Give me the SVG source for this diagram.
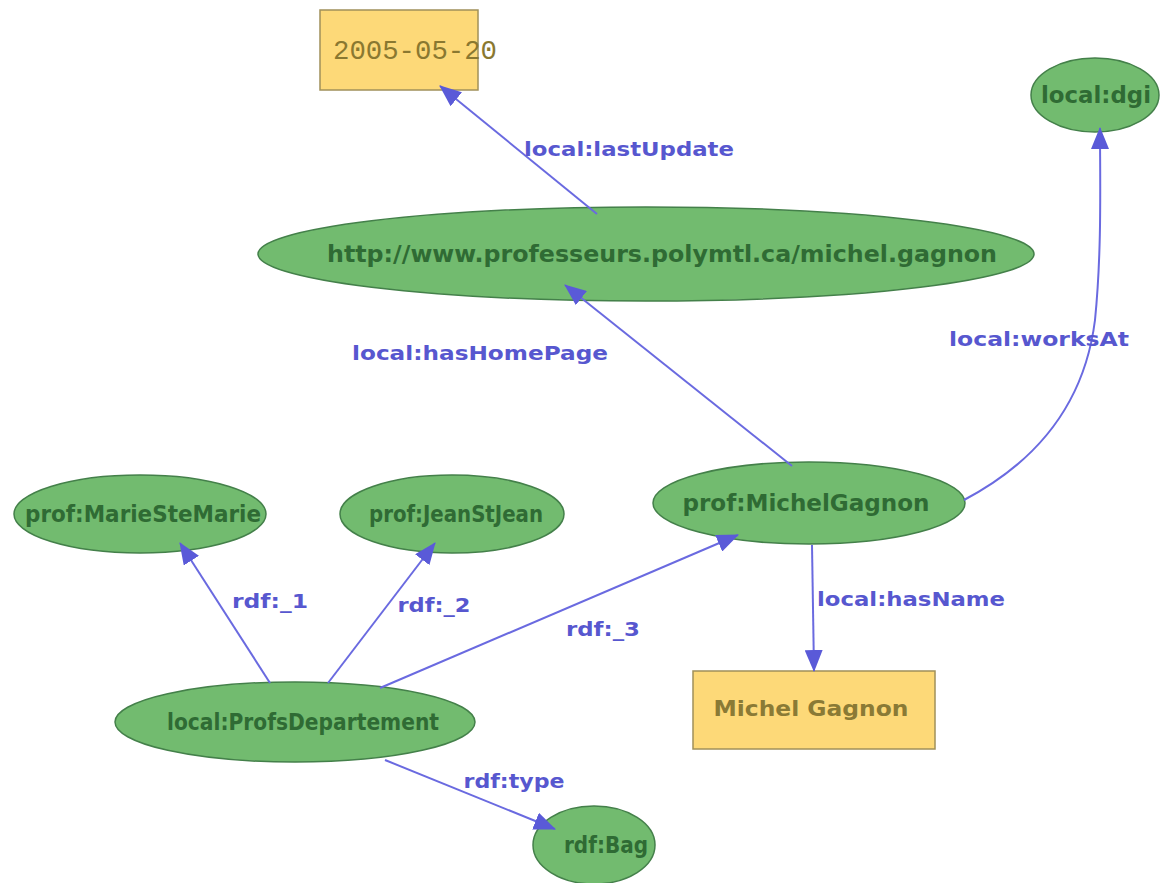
<svg xmlns="http://www.w3.org/2000/svg" width="1160" height="883" viewBox="0 0 1160 883">
<style>
.ell{fill:#72bb6f;stroke:#44804a;stroke-width:1.5}
.lit{fill:#fdd978;stroke:#a0905a;stroke-width:1.5}
.nt{font-family:"DejaVu Sans Condensed","DejaVu Sans",sans-serif;font-weight:bold;font-size:23px;fill:#2f6b34;text-anchor:middle}
.lt{font-family:"DejaVu Sans",sans-serif;font-weight:bold;font-size:22px;fill:#8a7a35;text-anchor:middle}
.el{fill:none;stroke:#6a6ae0;stroke-width:2}
.lb{font-family:"DejaVu Sans",sans-serif;font-weight:bold;font-size:20px;fill:#5757cf;text-anchor:middle}
</style>
<defs>
<marker id="ah" viewBox="0 0 22 18" refX="21" refY="9" markerWidth="22" markerHeight="18" markerUnits="userSpaceOnUse" orient="auto">
<path d="M0,0 L22,9 L0,18 Z" fill="#5a5ad8"/>
</marker>
</defs>
<rect width="1160" height="883" fill="#ffffff"/>
<g id="n-date">
<rect class="lit" x="320" y="10" width="158" height="80"/>
<text x="415" y="59" font-family="'Liberation Mono','DejaVu Sans Mono',monospace" font-size="27" fill="#8a7830" text-anchor="middle" textLength="164" lengthAdjust="spacingAndGlyphs">2005-05-20</text>
</g>
<g id="n-dgi">
<ellipse class="ell" cx="1095" cy="95" rx="64" ry="37"/>
<text class="nt" x="1096" y="103" textLength="110" lengthAdjust="spacingAndGlyphs">local:dgi</text>
</g>
<g id="n-url">
<ellipse class="ell" cx="646" cy="254" rx="388" ry="47"/>
<text class="nt" x="662" y="262" textLength="670" lengthAdjust="spacingAndGlyphs">http://www.professeurs.polymtl.ca/michel.gagnon</text>
</g>
<g id="n-michel">
<ellipse class="ell" cx="809" cy="503" rx="156" ry="41"/>
<text class="nt" x="806" y="511" textLength="247" lengthAdjust="spacingAndGlyphs">prof:MichelGagnon</text>
</g>
<g id="n-marie">
<ellipse class="ell" cx="140" cy="514" rx="126" ry="39"/>
<text class="nt" x="143" y="522" textLength="236" lengthAdjust="spacingAndGlyphs">prof:MarieSteMarie</text>
</g>
<g id="n-jean">
<ellipse class="ell" cx="452" cy="514" rx="112" ry="39"/>
<text class="nt" x="456" y="522" textLength="174" lengthAdjust="spacingAndGlyphs">prof:JeanStJean</text>
</g>
<g id="n-profsdep">
<ellipse class="ell" cx="295" cy="722" rx="180" ry="40"/>
<text class="nt" x="303" y="730" textLength="272" lengthAdjust="spacingAndGlyphs">local:ProfsDepartement</text>
</g>
<g id="n-bag">
<ellipse class="ell" cx="594" cy="845" rx="61" ry="39"/>
<text class="nt" x="606" y="853" textLength="84" lengthAdjust="spacingAndGlyphs">rdf:Bag</text>
</g>
<g id="n-name">
<rect class="lit" x="693" y="671" width="242" height="78"/>
<text class="lt" x="811" y="716" textLength="195" lengthAdjust="spacingAndGlyphs">Michel Gagnon</text>
</g>
<g id="edges">
<line class="el" x1="597" y1="214" x2="440" y2="86" marker-end="url(#ah)"/>
<line class="el" x1="792" y1="466" x2="565" y2="285" marker-end="url(#ah)"/>
<path class="el" d="M964,500 C1040,460 1085,400 1095,320 C1102,250 1100,180 1100,128" marker-end="url(#ah)"/>
<line class="el" x1="812" y1="545" x2="814" y2="671" marker-end="url(#ah)"/>
<line class="el" x1="270" y1="683" x2="180" y2="543" marker-end="url(#ah)"/>
<line class="el" x1="328" y1="683" x2="435" y2="543" marker-end="url(#ah)"/>
<line class="el" x1="380" y1="688" x2="738" y2="535" marker-end="url(#ah)"/>
<line class="el" x1="385" y1="760" x2="555" y2="829" marker-end="url(#ah)"/>
<text class="lb" x="629" y="156" textLength="210" lengthAdjust="spacingAndGlyphs">local:lastUpdate</text>
<text class="lb" x="480" y="360" textLength="256" lengthAdjust="spacingAndGlyphs">local:hasHomePage</text>
<text class="lb" x="1039" y="346" textLength="180" lengthAdjust="spacingAndGlyphs">local:worksAt</text>
<text class="lb" x="911" y="606" textLength="188" lengthAdjust="spacingAndGlyphs">local:hasName</text>
<text class="lb" x="270" y="608" textLength="76" lengthAdjust="spacingAndGlyphs">rdf:_1</text>
<text class="lb" x="434" y="612" textLength="73" lengthAdjust="spacingAndGlyphs">rdf:_2</text>
<text class="lb" x="603" y="636" textLength="74" lengthAdjust="spacingAndGlyphs">rdf:_3</text>
<text class="lb" x="514" y="788" textLength="101" lengthAdjust="spacingAndGlyphs">rdf:type</text>
</g>
</svg>
